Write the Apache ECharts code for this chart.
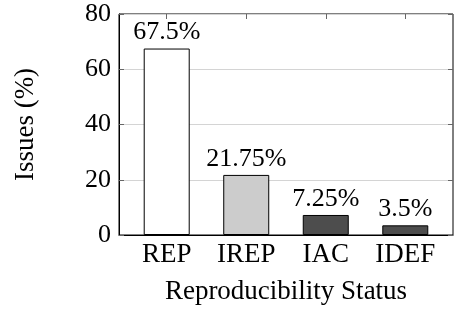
<!DOCTYPE html>
<html>
<head>
<meta charset="utf-8">
<script src="https://cdn.jsdelivr.net/npm/echarts@6/dist/echarts.min.js"></script>
<style>
  html, body { margin: 0; padding: 0; background: #fff; }
  #chart { width: 454px; height: 312px; }
</style>
</head>
<body>
<div id="chart"></div>
<script>
// reproducibility status bar chart
const categories = ['REP', 'IREP', 'IAC', 'IDEF'];
const issues = [67.5, 21.75, 7.25, 3.5];
const yTicks = [0, 20, 40, 60, 80];

const barColors = ['#ffffff', '#cccccc', '#4d4d4d', '#4d4d4d'];
const font = "'Liberation Serif', 'Times New Roman', serif";

const chart = echarts.init(document.getElementById('chart'));

const catIdx = categories.map((c, i) => i);

const option = {
  animation: false,
  grid: {
    left: 119, right: 1, top: 14, bottom: 77,
    show: true, borderColor: '#000', borderWidth: 1
  },
  xAxis: [
    {
      type: 'value', min: -0.6, max: 3.6,
      name: 'Reproducibility Status',
      nameLocation: 'middle', nameGap: 43,
      nameTextStyle: { fontFamily: font, fontSize: 27, color: '#000' },
      axisLine: { show: true, onZero: false, lineStyle: { color: '#000' } },
      axisTick: { show: true, inside: true, length: 5, customValues: catIdx, lineStyle: { color: '#555' } },
      axisLabel: {
        customValues: catIdx, margin: 6,
        fontFamily: font, fontSize: 27, color: '#000',
        formatter: v => categories[Math.round(v)]
      },
      splitLine: { show: false }
    },
    {
      type: 'value', min: -0.6, max: 3.6, position: 'top',
      axisLine: { show: false, onZero: false },
      axisTick: { show: true, inside: true, length: 5, customValues: catIdx, lineStyle: { color: '#666' } },
      axisLabel: { show: false },
      splitLine: { show: false }
    }
  ],
  yAxis: [
    {
      type: 'value', min: 0, max: 80, interval: 20,
      name: 'Issues (%)',
      nameLocation: 'middle', nameGap: 80,
      nameTextStyle: { fontFamily: font, fontSize: 27, color: '#000' },
      axisLine: { show: true, onZero: false, lineStyle: { color: '#000' } },
      axisTick: { show: true, inside: true, length: 5, lineStyle: { color: '#666' } },
      axisLabel: {
        margin: 8, fontFamily: font, fontSize: 26, color: '#000',
        formatter: v => yTicks.includes(v) ? String(v) : ''
      },
      splitLine: { show: true, lineStyle: { color: '#d4d4d4', width: 1 } }
    },
    {
      type: 'value', min: 0, max: 80, interval: 20, position: 'right',
      axisLine: { show: false, onZero: false },
      axisTick: { show: true, inside: true, length: 5, lineStyle: { color: '#666' } },
      axisLabel: { show: false },
      splitLine: { show: false }
    }
  ],
  series: [
    {
      type: 'bar',
      xAxisIndex: 0, yAxisIndex: 0,
      barWidth: 46,
      data: issues.map((v, i) => ({
        value: [i, v],
        itemStyle: { color: barColors[i], borderColor: '#000', borderWidth: 1 }
      })),
      label: {
        show: true, position: 'top', distance: 3,
        fontFamily: font, fontSize: 26, color: '#000',
        formatter: p => p.value[1] + '%'
      }
    }
  ]
};

chart.setOption(option);
</script>
</body>
</html>
